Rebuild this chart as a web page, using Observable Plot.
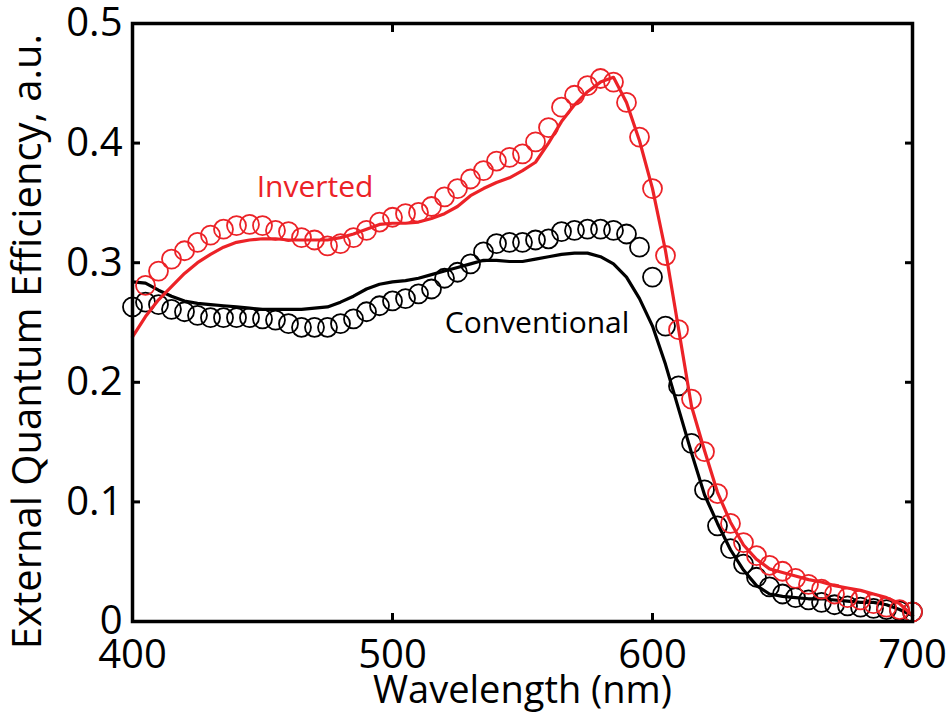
<!DOCTYPE html>
<html><head><meta charset="utf-8">
<script src="https://cdn.jsdelivr.net/npm/d3@7"></script>
<script src="https://cdn.jsdelivr.net/npm/@observablehq/plot@0.6"></script>
<style>body{margin:0;background:#fff} #chart svg{display:block}</style>
</head><body><div id="chart"></div>
<script>
// Wavelength grid (nm)
const wavelengths = [400,405,410,415,420,425,430,435,440,445,450,455,460,465,470,475,480,485,490,495,500,505,510,515,520,525,530,535,540,545,550,555,560,565,570,575,580,585,590,595,600,605,610,615,620,625,630,635,640,645,650,655,660,665,670,675,680,685,690,695,700];
const invertedWavelengths = wavelengths.slice(1); // red circles start at 405 nm

// Conventional – measured (black circles)
const conventionalMeasured = [0.263,0.267,0.265,0.261,0.259,0.256,0.254,0.254,0.254,0.254,0.253,0.252,0.249,0.246,0.246,0.246,0.249,0.253,0.259,0.264,0.268,0.270,0.274,0.278,0.287,0.292,0.299,0.309,0.316,0.317,0.317,0.319,0.320,0.326,0.327,0.328,0.328,0.327,0.324,0.313,0.288,0.247,0.197,0.149,0.110,0.080,0.061,0.048,0.037,0.029,0.023,0.020,0.018,0.016,0.014,0.013,0.012,0.011,0.010,0.009,0.008];
// Conventional – model (black line)
const conventionalModel = [0.284,0.283,0.277,0.272,0.268,0.266,0.265,0.264,0.263,0.262,0.261,0.261,0.261,0.261,0.262,0.263,0.267,0.272,0.278,0.282,0.284,0.285,0.287,0.290,0.293,0.296,0.299,0.302,0.302,0.301,0.301,0.303,0.305,0.307,0.308,0.308,0.305,0.299,0.288,0.270,0.247,0.215,0.178,0.141,0.106,0.082,0.060,0.043,0.030,0.023,0.021,0.020,0.019,0.019,0.018,0.017,0.016,0.016,0.014,0.010,0.005];
// Inverted – measured (red circles, 405–700 nm)
const invertedMeasured = [0.281,0.293,0.303,0.310,0.317,0.323,0.328,0.331,0.332,0.331,0.327,0.326,0.321,0.319,0.314,0.316,0.321,0.327,0.334,0.338,0.341,0.342,0.347,0.355,0.362,0.370,0.377,0.385,0.388,0.391,0.401,0.413,0.430,0.440,0.448,0.454,0.451,0.434,0.405,0.362,0.306,0.244,0.186,0.142,0.107,0.082,0.066,0.055,0.047,0.042,0.036,0.031,0.027,0.023,0.020,0.018,0.015,0.012,0.010,0.008];
// Inverted – model (red line)
const invertedModel = [0.238,0.255,0.269,0.280,0.291,0.300,0.307,0.313,0.317,0.319,0.320,0.320,0.319,0.319,0.319,0.319,0.321,0.324,0.328,0.332,0.333,0.333,0.334,0.337,0.341,0.347,0.356,0.362,0.367,0.371,0.377,0.384,0.400,0.418,0.432,0.443,0.451,0.455,0.434,0.402,0.362,0.310,0.245,0.180,0.143,0.108,0.083,0.064,0.052,0.044,0.041,0.038,0.035,0.033,0.030,0.028,0.026,0.023,0.020,0.015,0.005];

const xTicks = [400, 500, 600, 700];
const xTickLabels = ["400", "500", "600", "700"];
const yTicks = [0, 0.1, 0.2, 0.3, 0.4, 0.5];
const yTickLabels = ["0", "0.1", "0.2", "0.3", "0.4", "0.5"];

const annotations = [
  {x: 470.2, y: 0.363, text: "Inverted", color: "#ec2227"},
  {x: 555.6, y: 0.249, text: "Conventional", color: "#000000"}
];

const RED = "#ec2227";
const convM = wavelengths.map((w, i) => ({w, v: conventionalMeasured[i]}));
const convL = wavelengths.map((w, i) => ({w, v: conventionalModel[i]}));
const invM = invertedWavelengths.map((w, i) => ({w, v: invertedMeasured[i]}));
const invL = wavelengths.map((w, i) => ({w, v: invertedModel[i]}));

const chart = Plot.plot({
  width: 946, height: 721,
  marginLeft: 132, marginRight: 34, marginTop: 23, marginBottom: 100,
  style: {fontFamily: "'Open Sans', sans-serif", background: "#fff", color: "#000"},
  x: {domain: [400, 700]},
  y: {domain: [0, 0.5]},
  marks: [
    Plot.dot(convM, {x: "w", y: "v", r: 9.5, stroke: "#000", strokeWidth: 1.8, fill: "none"}),
    Plot.line(convL, {x: "w", y: "v", stroke: "#000", strokeWidth: 3.2}),
    Plot.dot(invM, {x: "w", y: "v", r: 9.5, stroke: RED, strokeWidth: 1.8, fill: "none"}),
    Plot.line(invL, {x: "w", y: "v", stroke: RED, strokeWidth: 3.2}),
    Plot.text(annotations, {x: "x", y: "y", text: "text", fill: "color", fontSize: 30, textAnchor: "middle"}),
    Plot.axisX(xTicks, {anchor: "bottom", tickSize: -8, tickPadding: 26, strokeWidth: 3, fontSize: 40, tickFormat: d => xTickLabels[xTicks.indexOf(d)], label: null}),
    Plot.axisX(xTicks, {anchor: "top", tickSize: -8, strokeWidth: 3, tickFormat: () => "", label: null}),
    Plot.axisY(yTicks, {anchor: "left", tickSize: -8, tickPadding: 18, strokeWidth: 3, fontSize: 40, tickFormat: d => yTickLabels[yTicks.indexOf(d)], label: null}),
    Plot.axisY(yTicks, {anchor: "right", tickSize: -8, strokeWidth: 3, tickFormat: () => "", label: null}),
    Plot.frame({stroke: "#000", strokeWidth: 3.5}),
    Plot.text(["Wavelength (nm)"], {frameAnchor: "bottom", dy: 81, fontSize: 38, textAnchor: "middle"}),
    Plot.text(["External Quantum Efficiency, a.u."], {frameAnchor: "left", dx: -104, dy: 19, rotate: -90, fontSize: 40, textAnchor: "middle"})
  ]
});
document.getElementById("chart").appendChild(chart);
</script>
</body></html>
